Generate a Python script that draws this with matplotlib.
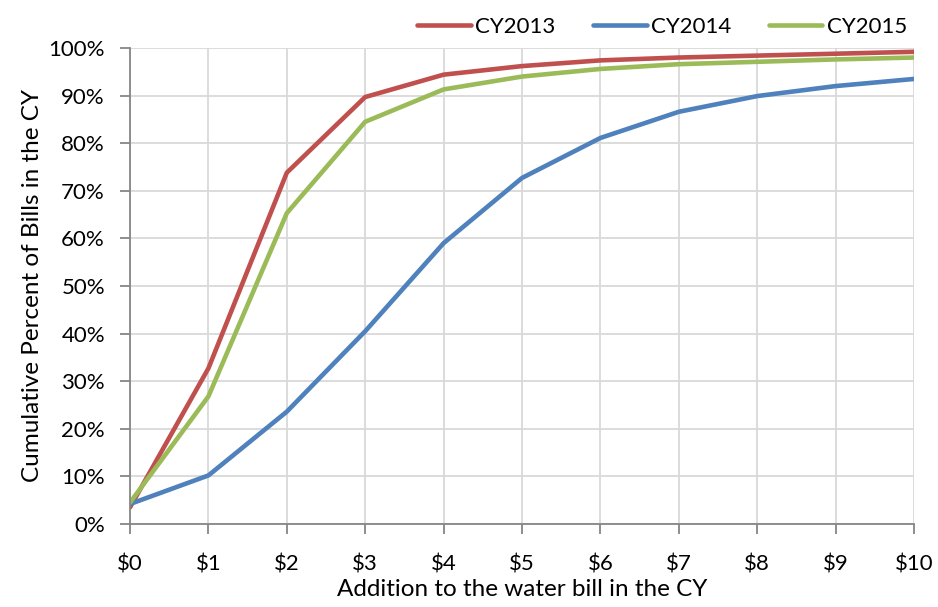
import matplotlib
matplotlib.use("Agg")
import matplotlib.pyplot as plt
from matplotlib.ticker import FuncFormatter

plt.rcParams['font.family'] = ['Lato', 'DejaVu Sans']

x_labels = ["$0", "$1", "$2", "$3", "$4", "$5", "$6", "$7", "$8", "$9", "$10"]
x_vals = list(range(11))
cy2013 = [3.5, 32.7, 73.8, 89.7, 94.4, 96.2, 97.4, 98.0, 98.4, 98.8, 99.2]
cy2014 = [4.2, 10.2, 23.6, 40.5, 59.0, 72.7, 81.1, 86.6, 89.9, 92.0, 93.5]
cy2015 = [4.5, 26.8, 65.3, 84.5, 91.3, 94.0, 95.6, 96.6, 97.1, 97.6, 98.0]
series_names = ["CY2013", "CY2014", "CY2015"]
colors = ["#C0504D", "#4F81BD", "#9BBB59"]

fig = plt.figure(figsize=(9.38, 6.07), dpi=100)
ax = fig.add_axes([130/938, 83/607, 784/938, 476/607])

for vals, name, c in zip([cy2013, cy2014, cy2015], series_names, colors):
    ax.plot(x_vals, vals, color=c, lw=3.3, label=name, solid_capstyle='round')

ax.set_xlim(0, 10)
ax.set_ylim(0, 100)
ax.set_xticks(x_vals)
ax.set_xticklabels(x_labels)
ax.set_yticks(range(0, 101, 10))
ax.yaxis.set_major_formatter(FuncFormatter(lambda v, p: f"{int(v)}%"))
ax.grid(True, color="#D9D9D9", lw=1.3)
ax.set_axisbelow(True)
for s in ["top", "right"]:
    ax.spines[s].set_visible(False)
for s in ["left", "bottom"]:
    ax.spines[s].set_color("#868686")
    ax.spines[s].set_linewidth(1.3)
ax.tick_params(axis='both', direction='out', length=7, width=1.3, color="#868686",
               labelsize=16, labelcolor="black")
ax.tick_params(axis='x', pad=15)
ax.tick_params(axis='y', pad=11)
ax.set_xlabel("Addition to the water bill in the CY", fontsize=17.5, labelpad=3)
ax.set_ylabel("Cumulative Percent of Bills in the CY", fontsize=17.5, labelpad=4)

fig.legend(loc="upper right", bbox_to_anchor=(927/938, 1.005), ncol=3, frameon=False,
           fontsize=16, handlelength=2.4, columnspacing=1.7, handletextpad=0.2)

fig.savefig("out.png", dpi=100)
